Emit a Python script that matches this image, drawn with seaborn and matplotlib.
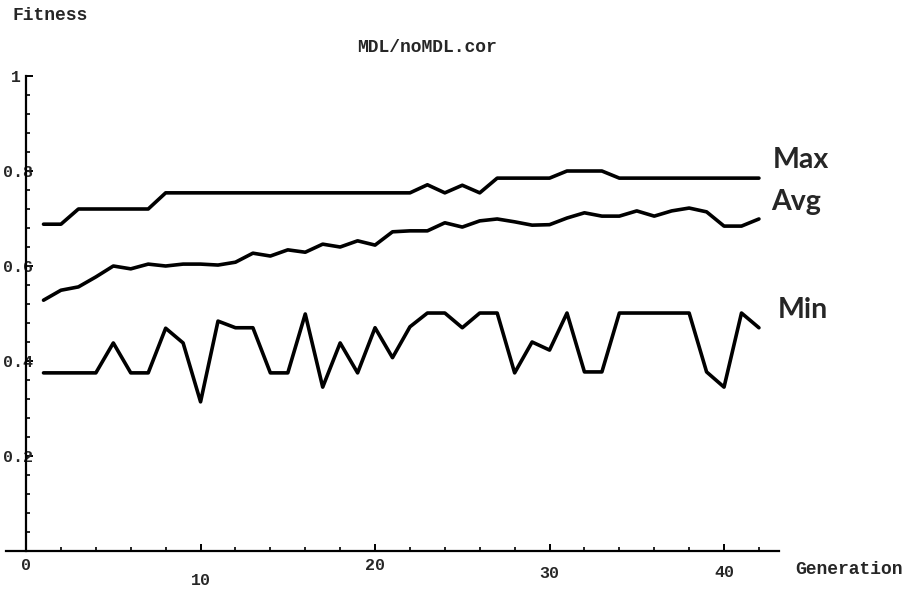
"""
Fitness per generation (MDL/noMDL.cor): max, average and min curves.
"""
import matplotlib
matplotlib.use('Agg')
import matplotlib.pyplot as plt
import matplotlib.transforms as mtransforms
from matplotlib.ticker import MultipleLocator
import pandas as pd
import seaborn as sns

# Data
generations = list(range(1, 43))
max_fitness = [0.688, 0.688] + [0.72] * 5 + [0.754] * 15 + [0.771, 0.754, 0.770, 0.754] \
    + [0.785] * 4 + [0.80] * 3 + [0.785] * 9
avg_fitness = [0.528, 0.549, 0.556, 0.577, 0.600, 0.594, 0.604, 0.600, 0.604, 0.604,
               0.602, 0.608, 0.627, 0.621, 0.634, 0.629, 0.646, 0.640, 0.653, 0.644,
               0.672, 0.674, 0.674, 0.691, 0.682, 0.695, 0.699, 0.693, 0.686, 0.687,
               0.701, 0.712, 0.705, 0.705, 0.716, 0.705, 0.716, 0.722, 0.714, 0.684,
               0.684, 0.699]
min_fitness = [0.375, 0.375, 0.375, 0.375, 0.438, 0.375, 0.375, 0.469, 0.438, 0.314,
               0.484, 0.470, 0.470, 0.375, 0.375, 0.499, 0.345, 0.438, 0.375, 0.470,
               0.407, 0.472, 0.501, 0.501, 0.470, 0.501, 0.501, 0.375, 0.440, 0.423,
               0.501, 0.377, 0.377, 0.501, 0.501, 0.501, 0.501, 0.501, 0.377, 0.345,
               0.501, 0.470]
series_names = ['Max', 'Avg', 'Min']

x_ticks = [0, 10, 20, 30, 40]
x_tick_labels = ['0', '10', '20', '30', '40']
y_ticks = [0.2, 0.4, 0.6, 0.8, 1.0]
y_tick_labels = ['0.2', '0.4', '0.6', '0.8', '1']

df = pd.DataFrame({
    'Generation': generations * 3,
    'Fitness': max_fitness + avg_fitness + min_fitness,
    'Series': [s for s in series_names for _ in generations],
})

sns.set_style('white')
mono = {'family': 'Liberation Mono', 'weight': 'bold'}

fig = plt.figure(figsize=(9.1, 5.89), dpi=100)
W, H = 910, 589
ax = fig.add_axes([6 / W, 1 - 551 / H, 773 / W, 475 / H])

sns.lineplot(data=df, x='Generation', y='Fitness', units='Series', estimator=None,
             color='black', linewidth=2.6, ax=ax, legend=False)

ax.set_xlim(-1.15, 43.15)
ax.set_ylim(0, 1.0)

# Mathematica-like axes: y axis crossing at x=0, no box
for side in ['top', 'right']:
    ax.spines[side].set_visible(False)
ax.spines['left'].set_position(('data', 0))
ax.spines['left'].set_bounds(0, 1.0)
for side in ['left', 'bottom']:
    ax.spines[side].set_linewidth(1.6)
    ax.spines[side].set_color('black')

ax.set_xticks(x_ticks)
ax.set_xticklabels(x_tick_labels, fontdict=mono, fontsize=12)
ax.set_yticks(y_ticks)
ax.set_yticklabels(y_tick_labels, fontdict=mono, fontsize=12)
ax.xaxis.set_minor_locator(MultipleLocator(2))
ax.yaxis.set_minor_locator(MultipleLocator(0.04))
ax.tick_params(which='both', bottom=True, left=True, top=False, right=False)
ax.tick_params(which='major', direction='in', length=5, width=1.4, color='black')
ax.tick_params(which='minor', direction='in', length=3, width=1.2, color='black')
ax.tick_params(axis='x', which='major', pad=5)
ax.tick_params(axis='y', which='major', pad=-5)
ax.set_xlabel('')
ax.set_ylabel('')

# staggered tick labels like the original printout
x_offsets = [0, -11, 0, -6, -5]
for lbl, dy in zip(ax.get_xticklabels(), x_offsets):
    lbl.set_transform(lbl.get_transform() +
                      mtransforms.ScaledTranslation(0, dy / 72, fig.dpi_scale_trans))
y_offsets = [0, 0, 0, 0, -9]
for lbl, dx in zip(ax.get_yticklabels(), y_offsets):
    lbl.set_transform(lbl.get_transform() +
                      mtransforms.ScaledTranslation(dx / 72, 0, fig.dpi_scale_trans))

# texts
fig.text(12 / W, 1 - 16 / H, 'Fitness', fontdict=mono, fontsize=13, va='center', ha='left')
fig.text(427 / W, 1 - 47 / H, 'MDL/noMDL.cor', fontdict=mono, fontsize=13,
         va='center', ha='center')
fig.text(795 / W, 1 - 569 / H, 'Generation', fontdict=mono, fontsize=13,
         va='center', ha='left')

label_pos = {'Max': (773, 168), 'Avg': (771, 210), 'Min': (778, 318)}
for name in series_names:
    px, py = label_pos[name]
    fig.text(px / W, 1 - py / H, name, family='Lato', weight='bold', fontsize=20.5,
             va='baseline', ha='left')

plt.savefig('out.png', dpi=100)
plt.close()
